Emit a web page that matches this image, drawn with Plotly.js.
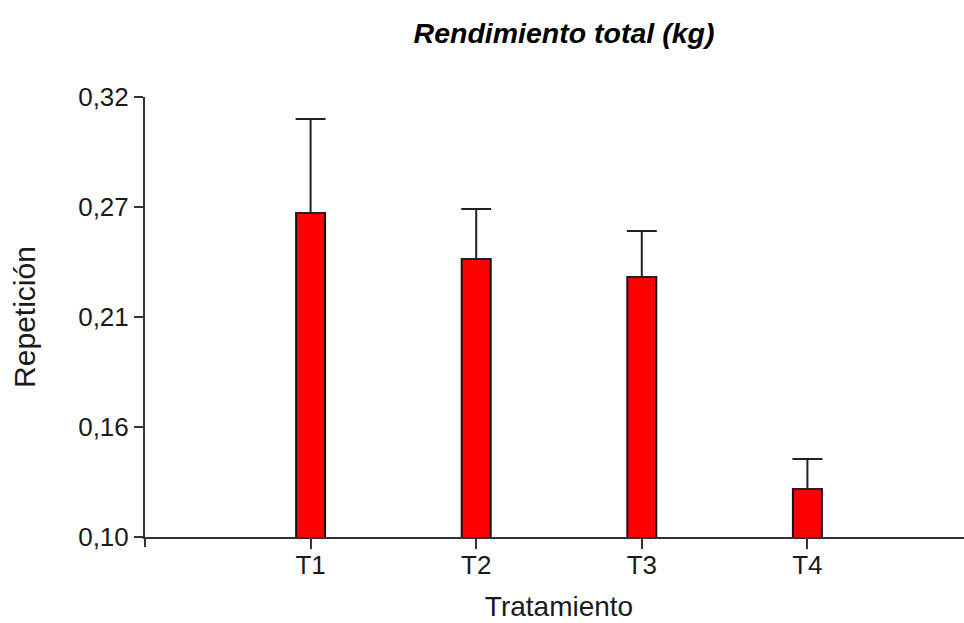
<!DOCTYPE html>
<html>
<head>
<meta charset="utf-8">
<script src="https://cdn.plot.ly/plotly-3.0.1.min.js"></script>
<style>
  html, body { margin: 0; padding: 0; overflow: hidden; background: #fff; }
  #chart { width: 990px; height: 623px; }
</style>
</head>
<body>
<div id="chart"></div>
<script>
// Rendimiento total por tratamiento (media + error superior)
const categories = ['T1', 'T2', 'T3', 'T4'];
const means = [0.262, 0.239, 0.230, 0.124];
const errUp = [0.047, 0.025, 0.023, 0.015];
const errDown = [0, 0, 0, 0];

const yTickVals = [0.10, 0.155, 0.21, 0.265, 0.32];
const yTickText = ['0,10', '0,16', '0,21', '0,27', '0,32'];

const FONT = '"Liberation Sans", Arial, sans-serif';
const AXIS = '#333333';

const trace = {
  type: 'bar',
  x: categories,
  y: means,
  base: 0,
  width: 0.175,
  marker: { color: '#ff0000', line: { color: '#111111', width: 2 } },
  error_y: {
    type: 'data',
    symmetric: false,
    array: errUp,
    arrayminus: errDown,
    color: '#222222',
    thickness: 2,
    width: 15
  },
  hoverinfo: 'x+y'
};

const layout = {
  width: 990,
  height: 623,
  margin: { l: 145, r: 17, t: 97, b: 86 },
  paper_bgcolor: '#ffffff',
  plot_bgcolor: '#ffffff',
  showlegend: false,
  font: { family: FONT, size: 26, color: '#1a1a1a' },
  title: {
    text: 'Rendimiento total (kg)',
    font: { family: FONT, size: 28.5, weight: 'bold', style: 'italic', color: '#000' },
    xref: 'container', yref: 'container',
    x: 564 / 990, y: 1 - 33 / 623,
    xanchor: 'center', yanchor: 'middle'
  },
  xaxis: {
    type: 'category',
    range: [-1, 4],
    showgrid: false,
    zeroline: false,
    showline: true,
    linecolor: AXIS,
    linewidth: 2,
    ticks: 'outside',
    ticklen: 10,
    tickwidth: 2,
    tickcolor: AXIS,
    ticklabelstandoff: -6,
    tickfont: { family: FONT, size: 26, color: '#1a1a1a' },
    title: { text: 'Tratamiento', font: { family: FONT, size: 28, color: '#1a1a1a' }, standoff: 17 },
    fixedrange: true
  },
  yaxis: {
    range: [0.10, 0.32],
    tickmode: 'array',
    tickvals: yTickVals,
    ticktext: yTickText,
    showgrid: false,
    zeroline: false,
    showline: true,
    linecolor: AXIS,
    linewidth: 2,
    ticks: 'outside',
    ticklen: 9,
    tickwidth: 2,
    tickcolor: AXIS,
    tickfont: { family: FONT, size: 26, color: '#1a1a1a' },
    title: { text: 'Repetición', font: { family: FONT, size: 30, color: '#1a1a1a' }, standoff: 34 },
    fixedrange: true
  },
  shapes: [
    // short stub where the two axes meet
    {
      type: 'line', xref: 'paper', yref: 'paper',
      x0: 0, x1: 0,
      ysizemode: 'pixel', yanchor: 0, y0: 0, y1: -10,
      line: { color: AXIS, width: 2 }
    }
  ]
};

Plotly.newPlot('chart', [trace], layout, { displayModeBar: false, staticPlot: true });
</script>
</body>
</html>
